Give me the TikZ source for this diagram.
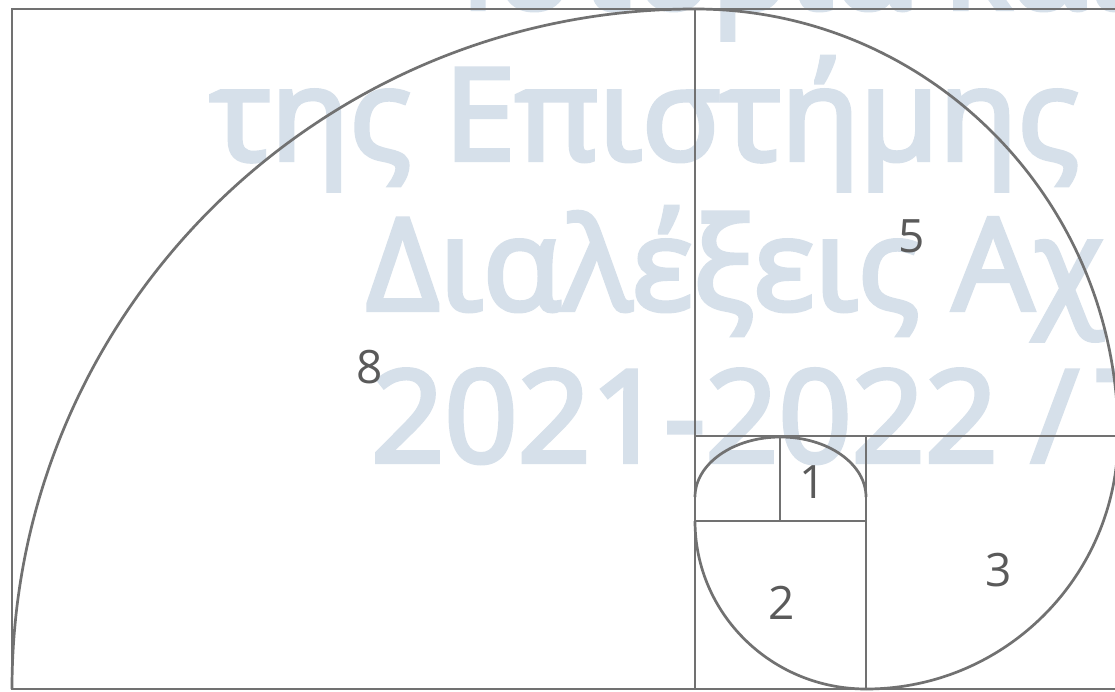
\documentclass[tikz,border=0pt]{standalone}
\usepackage{fontspec}
\setmainfont{Open Sans}
\newfontfamily\wmfont[FakeBold=3.5]{Open Sans}
\definecolor{linegray}{HTML}{717171}
\definecolor{wmblue}{HTML}{D6E0EA}
\definecolor{numgray}{HTML}{5A5A5A}
\tikzset{
  frame/.style={draw=linegray, line width=2.6pt},
  spiral/.style={draw=linegray, line width=2.7pt},
  wmark/.style={text=wmblue, anchor=base west, inner sep=0pt, font=\wmfont\fontsize{128}{140}\selectfont},
  numlabel/.style={text=numgray, inner sep=0pt, font=\fontsize{46}{50}\selectfont}
}
\begin{document}
\begin{tikzpicture}[x=1pt,y=1pt]
\useasboundingbox (0,0) rectangle (1115,691);
\clip (0,0) rectangle (1115,691);
\fill[white] (0,0) rectangle (1115,691);
% watermark
\node[wmark] (w1) at (460,682) {Ιστορία και};
\node[wmark] (w2) at (210,531) {της Επιστήμης};
\node[wmark] (w3) at (366,381) {Διαλέξεις Αχ};
\node[wmark] (w4) at (371,229) {2021-2022 /\kern-14pt{} Τ};
% squares
\draw[frame] (12,2) rectangle (1121,682);
\draw[frame] (695,2) -- (695,682);
\draw[frame] (695,255) -- (1121,255);
\draw[frame] (866,2) -- (866,255);
\draw[frame] (695,170) -- (866,170);
\draw[frame] (780,170) -- (780,255);
% spiral
\draw[spiral] (12,2) arc[start angle=180, end angle=90, x radius=683, y radius=680];
\draw[spiral] (695,682) arc[start angle=90, end angle=0, x radius=423, y radius=427];
\draw[spiral] (1118,255) arc[start angle=0, end angle=-90, x radius=252, y radius=253];
\draw[spiral] (866,2) arc[start angle=-90, end angle=-180, x radius=171, y radius=168];
\draw[spiral] (695,194) arc[start angle=180, end angle=0, x radius=85.5, y radius=60];
% labels
\node[numlabel] (n8) at (370,324) {8};
\node[numlabel] (n5) at (912,455) {5};
\node[numlabel] (n1) at (813,209) {1};
\node[numlabel] (n2) at (782,88) {2};
\node[numlabel] (n3) at (999,121) {3};
\end{tikzpicture}
\end{document}
